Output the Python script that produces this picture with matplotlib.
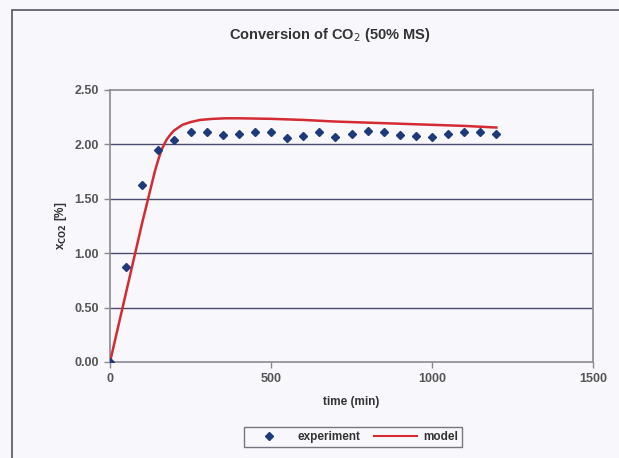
import matplotlib
matplotlib.use("Agg")
import matplotlib.pyplot as plt
from matplotlib.patches import Rectangle
from matplotlib.lines import Line2D

# experiment data
exp_time = [0, 50, 100, 150, 200, 250, 300, 350, 400, 450, 500, 550, 600,
            650, 700, 750, 800, 850, 900, 950, 1000, 1050, 1100, 1150, 1200]
exp_conv = [0.00, 0.87, 1.63, 1.95, 2.04, 2.11, 2.11, 2.09, 2.10, 2.11, 2.11,
            2.06, 2.08, 2.11, 2.07, 2.10, 2.12, 2.11, 2.09, 2.08, 2.07, 2.10,
            2.11, 2.11, 2.10]

# model curve
model_time = [0, 25, 50, 75, 100, 125, 140, 150, 160, 175, 190, 200, 225,
              250, 280, 320, 360, 400, 500, 600, 700, 800, 900, 1000, 1100,
              1200]
model_conv = [0.00, 0.32, 0.64, 0.96, 1.28, 1.58, 1.76, 1.86, 1.95, 2.04,
              2.10, 2.13, 2.18, 2.205, 2.225, 2.235, 2.24, 2.24, 2.235, 2.225,
              2.21, 2.20, 2.19, 2.18, 2.17, 2.155]

x_ticks = [0, 500, 1000, 1500]
y_ticks = [0.0, 0.5, 1.0, 1.5, 2.0, 2.5]

plt.rcParams['font.family'] = ['Liberation Sans', 'DejaVu Sans']

W, H = 619, 458
fig = plt.figure(figsize=(W / 100, H / 100), dpi=100)
bg = '#f8f8fc'
fig.patch.set_facecolor(bg)

# outer chart border
fig.patches.append(Rectangle((12 / W, -0.1), 1.2, 1 - 10 / H + 0.1,
                             transform=fig.transFigure, fill=False,
                             edgecolor='#555560', linewidth=1.2))

ax = fig.add_axes([110 / W, 1 - 362 / H, (593 - 110) / W, (362 - 90) / H])
ax.set_facecolor(bg)

ax.set_xlim(0, 1500)
ax.set_ylim(0, 2.5)
ax.set_xticks(x_ticks)
ax.set_yticks(y_ticks)
ax.set_xticklabels([str(v) for v in x_ticks])
ax.set_yticklabels([f"{v:.2f}" for v in y_ticks])

for v in y_ticks[1:-1]:
    ax.axhline(v, color='#4a4a6a', linewidth=1.0, zorder=1)

for s in ax.spines.values():
    s.set_color('#8a8a90')
    s.set_linewidth(1.2)

ax.tick_params(axis='both', direction='out', length=4, width=1,
               color='#8a8a90', labelsize=9, labelcolor='#555555', pad=4)
for lbl in ax.get_xticklabels() + ax.get_yticklabels():
    lbl.set_fontweight('bold')

ax.plot(model_time, model_conv, color='#d42a32', linewidth=1.8, zorder=3,
        label='model')
ax.plot(exp_time, exp_conv, linestyle='none', marker='D', markersize=3.6,
        color='#1f3a7a', zorder=4, label='experiment')

fig.text(330 / W, 1 - 35 / H, 'Conversion of CO$_2$ (50% MS)',
         ha='center', va='center', fontsize=10.5, fontweight='bold',
         color='#333333')

ax.set_xlabel('time (min)', fontsize=8.5, fontweight='bold',
              color='#333333', labelpad=8)
ax.set_ylabel('x$_{\\mathbf{CO2}}$ [%]', fontsize=8.5, fontweight='bold',
              color='#333333', labelpad=4)

handles = [Line2D([], [], linestyle='none', marker='D', markersize=3.6,
                  color='#1f3a7a'),
           Line2D([], [], color='#d42a32', linewidth=1.5)]
leg = fig.legend(handles, ['experiment', 'model'], loc='center',
                 bbox_to_anchor=(353 / W, 1 - 437 / H), ncol=2,
                 frameon=True, fancybox=False, fontsize=8.5,
                 handlelength=3.6, columnspacing=1.2, handletextpad=0.6,
                 borderpad=0.3)
leg.get_frame().set_edgecolor('#555560')
leg.get_frame().set_facecolor(bg)
leg.get_frame().set_linewidth(1.0)
for t in leg.get_texts():
    t.set_fontweight('bold')
    t.set_color('#333333')

fig.savefig('out.png', dpi=100, facecolor=bg)
